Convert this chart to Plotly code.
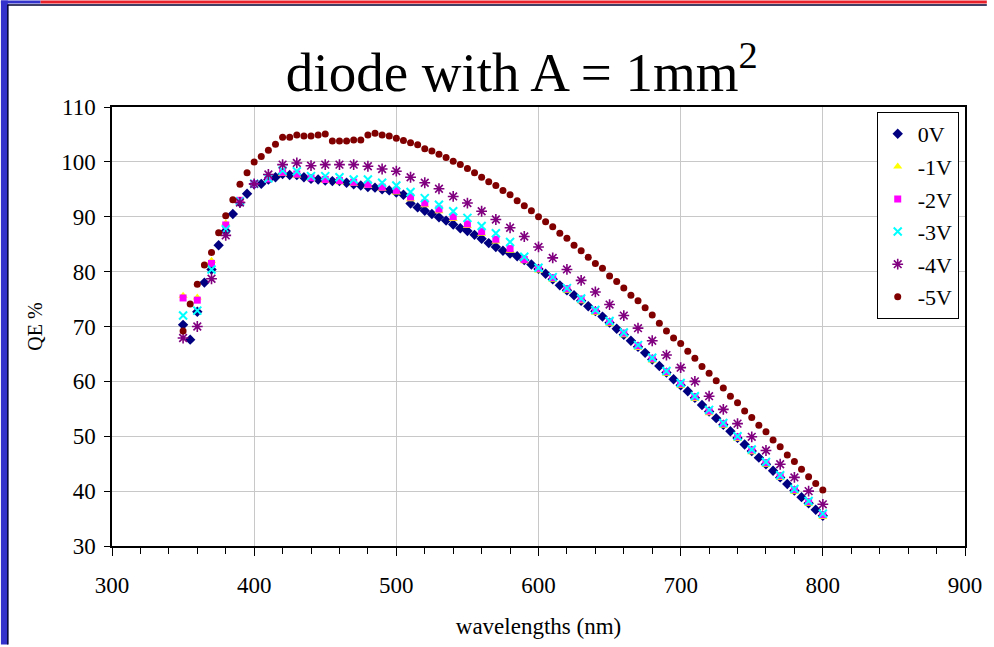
import plotly.graph_objects as go

# wavelengths (nm)
wl_5 = list(range(350, 805, 5))     # 0V and -5V measured every 5 nm
wl_10 = list(range(350, 810, 10))   # -1V .. -4V measured every 10 nm

qe_0v = [70.3, 67.6, 72.7, 78.0, 80.4, 84.8, 87.4, 90.5, 92.6, 94.2,
         95.9, 96.0, 96.8, 97.2, 97.8, 97.6, 97.6, 97.2, 96.9, 96.8,
         96.6, 96.5, 96.5, 96.2, 95.9, 95.7, 95.4, 95.3, 95.0, 94.8,
         94.4, 94.0, 92.4, 91.7, 91.1, 90.5, 89.9, 89.3, 88.6, 87.9,
         87.4, 86.7, 86.0, 85.2, 84.5, 83.8, 83.3, 82.8, 82.1, 81.3,
         80.5, 79.6, 78.6, 77.5, 76.6, 75.7, 74.7, 73.7, 72.8, 71.8,
         70.7, 69.6, 68.5, 67.4, 66.3, 65.2, 64.0, 62.8, 61.6, 60.4,
         59.3, 58.2, 57.0, 55.7, 54.5, 53.3, 52.1, 50.9, 49.7, 48.5,
         47.3, 46.1, 44.9, 43.7, 42.5, 41.3, 40.1, 38.9, 37.8, 36.6,
         35.5]

qe_5v = [69.2, 74.1, 77.7, 81.2, 83.5, 87.1, 90.2, 93.1, 95.9, 98.0,
         100.0, 101.0, 102.1, 103.2, 104.5, 104.5, 104.9, 104.7, 104.7, 104.9,
         105.1, 103.8, 103.8, 103.8, 104.0, 104.0, 104.9, 105.2, 104.9, 104.7,
         104.3, 103.9, 103.5, 103.1, 102.4, 102.0, 101.4, 100.8, 100.1, 99.5,
         98.8, 98.0, 97.2, 96.4, 95.7, 94.8, 94.0, 92.9, 92.0, 91.1,
         90.0, 89.1, 88.2, 87.0, 86.1, 84.8, 83.8, 82.6, 81.5, 80.6,
         79.2, 78.2, 77.0, 75.7, 74.7, 73.4, 72.1, 70.6, 69.2, 67.9,
         66.9, 65.5, 64.2, 62.7, 61.5, 60.1, 58.8, 57.3, 56.1, 54.6,
         53.4, 52.0, 50.8, 49.3, 48.1, 46.6, 45.4, 44.0, 42.6, 41.4,
         40.2]

qe_1v = [75.6, 75.3, 82.0, 88.8, 93.0, 95.8, 96.7, 97.8, 97.5, 96.9,
         96.5, 96.3, 96.0, 95.6, 95.1, 94.4, 93.2, 92.1, 91.0, 89.6,
         88.3, 86.9, 85.5, 83.8, 81.9, 80.2, 78.5, 76.5, 74.6, 72.5,
         70.5, 68.4, 66.1, 63.8, 61.4, 59.2, 56.8, 54.2, 51.9, 49.5,
         47.1, 44.8, 42.4, 39.9, 37.7, 35.3]

qe_2v = [75.2, 74.8, 81.5, 88.5, 93.0, 96.0, 96.9, 98.1, 97.8, 97.1,
         96.8, 96.6, 96.3, 95.9, 95.4, 94.8, 93.6, 92.5, 91.4, 90.0,
         88.7, 87.3, 85.9, 84.2, 82.2, 80.6, 78.9, 76.9, 75.0, 72.9,
         70.9, 68.8, 66.5, 64.2, 61.8, 59.6, 57.2, 54.6, 52.3, 49.9,
         47.5, 45.2, 42.8, 40.3, 38.1, 35.7]

qe_3v = [72.0, 72.9, 80.4, 87.7, 92.8, 96.0, 97.0, 98.4, 98.3, 97.4,
         97.4, 97.2, 96.8, 96.8, 96.2, 95.7, 94.5, 93.4, 92.2, 91.0,
         89.8, 88.3, 87.0, 85.4, 82.7, 80.7, 79.0, 77.0, 75.1, 73.0,
         71.0, 68.9, 66.6, 64.3, 61.9, 59.7, 57.3, 54.8, 52.4, 50.0,
         47.6, 45.3, 42.9, 40.4, 38.2, 35.9]

qe_4v = [67.9, 70.0, 78.7, 86.6, 92.6, 96.0, 97.7, 99.5, 99.8, 99.3,
         99.5, 99.5, 99.5, 99.2, 98.7, 98.3, 97.2, 96.2, 95.1, 93.7,
         92.5, 91.0, 89.5, 88.0, 86.4, 84.5, 82.5, 80.4, 78.4, 76.3,
         74.0, 72.0, 69.7, 67.4, 64.8, 62.5, 60.0, 57.3, 54.9, 52.3,
         49.9, 47.4, 44.9, 42.5, 40.0, 37.6]

W, H = 994, 647
L, R, T, B = 112, 22, 107, 99
pw, ph = W - L - R, H - T - B


def px(x):
    return (x - L) / pw


def py(y):
    return (H - B - y) / ph


serif = 'Liberation Serif'

fig = go.Figure()

series = [
    ('0V', wl_5, qe_0v, 'diamond', '#000080', 8, None),
    ('-1V', wl_10, qe_1v, 'triangle-up', '#FFFF00', 8, None),
    ('-2V', wl_10, qe_2v, 'square', '#FF00FF', 7, None),
    ('-3V', wl_10, qe_3v, 'x-thin-open', '#00FFFF', 8, 2),
    ('-4V', wl_10, qe_4v, 'asterisk-open', '#800080', 9, 1.6),
    ('-5V', wl_5, qe_5v, 'circle', '#800000', 7, None),
]

for name, xs, ys, sym, col, size, lw in series:
    marker = dict(symbol=sym, color=col, size=size)
    if lw:
        marker['line'] = dict(color=col, width=lw)
    else:
        marker['line'] = dict(width=0)
    fig.add_trace(go.Scatter(x=xs, y=ys, mode='markers', name=name,
                             legendgroup=name, marker=marker))

# slide frame: blue strip on the left, red line on top
shapes = [
    dict(type='rect', xref='paper', yref='paper', x0=px(0), x1=px(7), y0=py(H), y1=py(0),
         fillcolor='#3333CC', line=dict(width=0), layer='above'),
    dict(type='line', xref='paper', yref='paper', x0=px(7), x1=px(7), y0=py(H), y1=py(4),
         line=dict(color='#000033', width=1.5)),
    dict(type='rect', xref='paper', yref='paper', x0=px(0), x1=px(40), y0=py(3), y1=py(0),
         fillcolor='#3333CC', line=dict(width=0)),
    dict(type='rect', xref='paper', yref='paper', x0=px(40), x1=px(W), y0=py(3), y1=py(0),
         fillcolor='#E8202A', line=dict(width=0)),
    dict(type='line', xref='paper', yref='paper', x0=px(7), x1=px(W), y0=py(4.5), y1=py(4.5),
         line=dict(color='#000033', width=1.5)),
]

fig.update_layout(
    width=W, height=H, autosize=False,
    margin=dict(l=L, r=R, t=T, b=B),
    paper_bgcolor='white', plot_bgcolor='white',
    font=dict(family=serif, color='black', size=22),
    title=dict(text='diode with A = 1mm<sup>2</sup>', x=0.525, xanchor='center',
               y=1 - 72 / H, yanchor='middle', yref='container',
               font=dict(family=serif, size=55, color='black')),
    shapes=shapes,
    showlegend=True,
    legend=dict(x=px(883), y=py(112), xanchor='left', yanchor='top',
                bgcolor='white', bordercolor='black', borderwidth=1,
                font=dict(family=serif, size=22), tracegroupgap=1,
                itemsizing='trace'),
)

fig.update_xaxes(range=[300, 900], dtick=100, tick0=300,
                 showgrid=True, gridcolor='#C8C8C8', gridwidth=1,
                 showline=True, linecolor='black', linewidth=1.5, mirror=True,
                 ticks='outside', ticklen=8, tickcolor='black',
                 minor=dict(dtick=20, ticks='outside', ticklen=6, tickcolor='black', showgrid=False),
                 ticklabelstandoff=10, zeroline=False,
                 tickfont=dict(family=serif, size=23),
                 title=dict(text='wavelengths (nm)', standoff=21,
                            font=dict(family=serif, size=23)))

fig.update_yaxes(range=[30, 110], dtick=10,
                 showgrid=True, gridcolor='#C8C8C8', gridwidth=1,
                 showline=True, linecolor='black', linewidth=1.5, mirror=True,
                 ticks='outside', ticklen=6, tickcolor='black', zeroline=False,
                 ticklabelstandoff=4,
                 tickfont=dict(family=serif, size=23),
                 title=dict(text='QE %', standoff=13,
                            font=dict(family=serif, size=20)))

# the page has a default 8px body margin; drop it so the figure sits at 0,0
fig.write_html("out.html",
               config={'displayModeBar': False, 'responsive': False},
               post_script="document.body.style.margin='0';document.body.style.overflow='hidden';")
